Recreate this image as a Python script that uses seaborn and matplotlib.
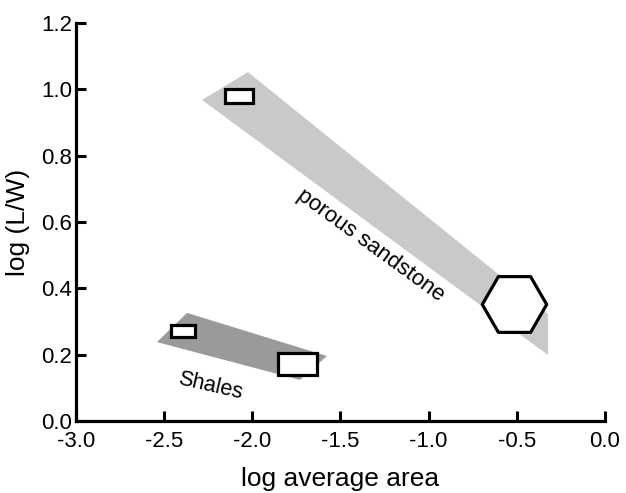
import matplotlib
matplotlib.use('Agg')
import matplotlib.pyplot as plt
import matplotlib.patches as mpatches
import seaborn as sns
import pandas as pd

# Data (log area vs log aspect ratio)
sand_band_x = [-2.285, -2.025, -0.323, -0.323]
sand_band_y = [0.968, 1.052, 0.322, 0.199]
shale_band_x = [-2.541, -2.370, -1.577, -1.730]
shale_band_y = [0.238, 0.326, 0.196, 0.124]

# boxes: x0, x1, y0, y1
box_x0 = [-2.155, -2.461, -1.854]
box_x1 = [-1.996, -2.325, -1.633]
box_y0 = [0.959, 0.253, 0.139]
box_y1 = [1.001, 0.289, 0.205]

hex_x = [-0.516]
hex_y = [0.354]

x_ticks = [-3.0, -2.5, -2.0, -1.5, -1.0, -0.5, 0.0]
y_ticks = [0.0, 0.2, 0.4, 0.6, 0.8, 1.0, 1.2]

sns.set_style('ticks')
plt.rcParams['font.family'] = ['Liberation Sans', 'DejaVu Sans']
# seaborn greys the text, the original is plain black
plt.rcParams['text.color'] = 'black'
plt.rcParams['axes.labelcolor'] = 'black'
plt.rcParams['xtick.color'] = 'black'
plt.rcParams['ytick.color'] = 'black'

fig = plt.figure(figsize=(6.26, 4.93), dpi=100)
ax = fig.add_axes([0.1214, 0.1460, 0.8450, 0.8073])

# shaded regions
ax.fill(sand_band_x, sand_band_y, color='#c9c9c9', lw=0, zorder=1)
ax.fill(shale_band_x, shale_band_y, color='#9a9a9a', lw=0, zorder=1)

# open boxes
for x0, x1, y0, y1 in zip(box_x0, box_x1, box_y0, box_y1):
    ax.add_patch(mpatches.Rectangle((x0, y0), x1 - x0, y1 - y0,
                                    facecolor='white', edgecolor='black',
                                    lw=2.3, zorder=3))

# hexagon
hex_df = pd.DataFrame({'x': hex_x, 'y': hex_y})
sns.scatterplot(data=hex_df, x='x', y='y', marker='H', s=2150,
                facecolor='white', edgecolor='black', linewidth=2.3,
                zorder=4, ax=ax, legend=False)

ax.text(-1.327, 0.530, 'porous sandstone', rotation=-36, fontsize=16,
        ha='center', va='center', rotation_mode='anchor')
ax.text(-2.240, 0.1055, 'Shales', rotation=-13, fontsize=15.5,
        ha='center', va='center', rotation_mode='anchor')

ax.set_xlim(-3.0, 0.0)
ax.set_ylim(0.0, 1.2)
ax.set_xticks(x_ticks)
ax.set_yticks(y_ticks)
ax.set_xticklabels([f'{v:.1f}' for v in x_ticks])
ax.set_yticklabels([f'{v:.1f}' for v in y_ticks])
ax.tick_params(direction='in', length=7, width=2.2, labelsize=16)
ax.tick_params(axis='x', pad=7)
ax.tick_params(axis='y', pad=3)

ax.set_xlabel('log average area', fontsize=19, labelpad=11)
ax.set_ylabel('log (L/W)', fontsize=19, labelpad=8)

for side in ['top', 'right']:
    ax.spines[side].set_visible(False)
for side in ['left', 'bottom']:
    ax.spines[side].set_linewidth(2.3)
    ax.spines[side].set_color('black')

fig.savefig('out.png', dpi=100)
